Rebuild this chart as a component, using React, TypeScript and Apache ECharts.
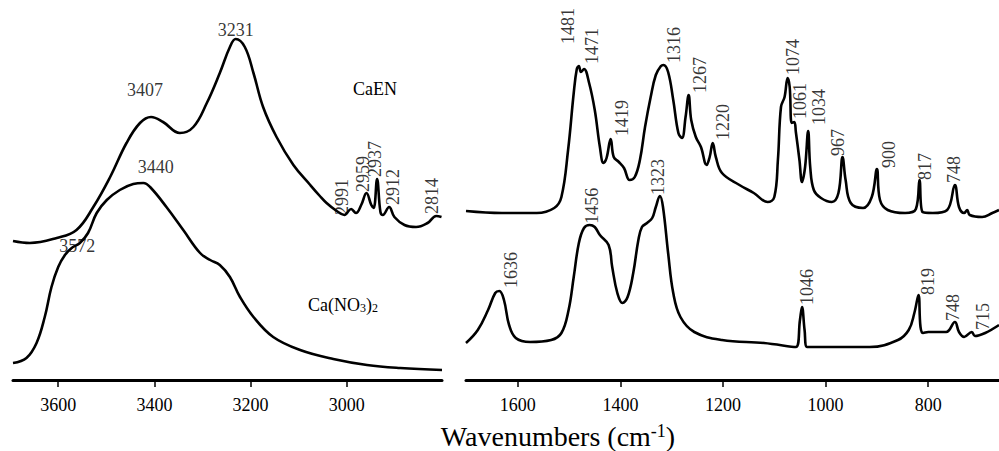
import { useEffect, useRef } from "react";
import * as echarts from "echarts";

const FONT = "Liberation Serif, Times New Roman, serif";

// ─── Spectra: [wavenumber (cm-1), intensity (a.u., offset)] ─────────
const LEFT_CAEN = [
  [3694, 139], [3659, 137], [3603, 142], [3562, 150], [3527, 173], [3492, 203],
  [3458, 237], [3430, 257], [3407, 263], [3382, 258], [3347, 247], [3319, 253],
  [3291, 277], [3264, 307], [3243, 333], [3231, 341], [3212, 333], [3194, 307],
  [3174, 273], [3146, 243], [3111, 215], [3076, 195], [3056, 184], [3042, 177],
  [3021, 169], [3005, 165], [2991, 171], [2981, 167], [2970, 175], [2959, 187],
  [2949, 175], [2944, 172], [2937, 201], [2930, 168], [2925, 165], [2912, 173],
  [2901, 163], [2880, 155], [2856, 153], [2832, 157], [2814, 164], [2803, 163],
];

const LEFT_CANO3 = [
  [3694, 17], [3666, 22], [3645, 37], [3628, 63], [3614, 93], [3600, 113],
  [3586, 125], [3572, 132], [3555, 137], [3538, 147], [3520, 167], [3499, 180],
  [3472, 190], [3444, 196], [3423, 197], [3409, 193], [3375, 173], [3340, 150],
  [3305, 127], [3284, 120], [3264, 115], [3243, 103], [3222, 83], [3194, 63],
  [3153, 43], [3097, 30], [3028, 21], [2958, 15], [2889, 12], [2802, 10],
];

const RIGHT_CAEN = [
  [1701, 169], [1631, 167], [1563, 167], [1529, 172], [1515, 183], [1502, 230],
  [1491, 287], [1485, 311], [1481, 314], [1477, 308], [1471, 311], [1461, 297],
  [1450, 270], [1440, 233], [1433, 217], [1427, 222], [1419, 241], [1413, 223],
  [1403, 218], [1393, 212], [1382, 200], [1372, 203], [1362, 220], [1352, 253],
  [1341, 283], [1331, 305], [1321, 314], [1316, 315], [1307, 308], [1297, 280],
  [1287, 247], [1280, 242], [1273, 263], [1267, 285], [1262, 260], [1253, 243],
  [1243, 233], [1232, 215], [1226, 223], [1220, 237], [1214, 223], [1202, 207],
  [1168, 195], [1140, 187], [1113, 178], [1100, 183], [1093, 220], [1087, 273],
  [1080, 283], [1074, 302], [1070, 293], [1066, 257], [1061, 258], [1058, 248],
  [1051, 220], [1046, 198], [1040, 213], [1034, 249], [1030, 213], [1023, 190],
  [1009, 182], [988, 178], [975, 187], [967, 223], [961, 200], [951, 177],
  [927, 172], [910, 183], [900, 211], [894, 180], [879, 170], [845, 167],
  [824, 171], [817, 200], [811, 168], [791, 167], [763, 170], [748, 195],
  [740, 173], [730, 167], [724, 170], [719, 165], [695, 163], [675, 167],
  [662, 170],
];

const RIGHT_CANO3 = [
  [1701, 37], [1678, 50], [1658, 70], [1644, 87], [1636, 89], [1627, 80],
  [1617, 55], [1604, 42], [1576, 38], [1535, 40], [1515, 47], [1501, 70],
  [1491, 103], [1481, 137], [1471, 152], [1460, 155], [1450, 153], [1440, 145],
  [1423, 135], [1416, 113], [1406, 87], [1396, 77], [1386, 83], [1375, 107],
  [1365, 140], [1358, 153], [1348, 157], [1338, 162], [1331, 173], [1323, 184],
  [1317, 173], [1307, 127], [1297, 87], [1283, 63], [1256, 48], [1202, 40],
  [1120, 37], [1058, 33], [1050, 60], [1046, 73], [1041, 50], [1036, 33],
  [982, 33], [914, 33], [859, 40], [838, 50], [827, 67], [819, 85],
  [815, 53], [810, 47], [800, 48], [765, 48], [748, 58], [740, 48],
  [730, 43], [715, 48], [709, 44], [689, 47], [662, 55],
];

// ─── Axis ticks ────────────────────────────────────────────────────
const LEFT_TICKS = [3600, 3400, 3200, 3000];
const RIGHT_TICKS = [1600, 1400, 1200, 1000, 800];

// ─── Peak assignments ──────────────────────────────────────────────
const LEFT_CAEN_PEAKS = [3407, 3231, 2991, 2959, 2937, 2912, 2814];
const LEFT_CANO3_PEAKS = [3572, 3440];
const RIGHT_CAEN_PEAKS = [1481, 1471, 1419, 1316, 1267, 1220, 1074, 1061, 1034, 967, 900, 817, 748];
const RIGHT_CANO3_PEAKS = [1636, 1456, 1323, 1046, 819, 748, 715];

// label placement on screen relative to the peak: [dx, dy] px, h = horizontal text
const LABEL_PLACE: Record<string, { dx: number; dy: number; h?: boolean }> = {
  "L1-3407": { dx: -6, dy: -27, h: true },
  "L1-3231": { dx: 0, dy: -9, h: true },
  "L1-2991": { dx: -9, dy: 6 },
  "L1-2959": { dx: -3, dy: -1 },
  "L1-2937": { dx: -2, dy: -2 },
  "L1-2912": { dx: 4, dy: -2 },
  "L1-2814": { dx: -4, dy: -2 },
  "L2-3572": { dx: 5.5, dy: -2, h: true },
  "L2-3440": { dx: 20.5, dy: -17, h: true },
  "R1-1481": { dx: -10.5, dy: -22 },
  "R1-1471": { dx: 8, dy: -5 },
  "R1-1419": { dx: 11, dy: -3 },
  "R1-1316": { dx: 10.5, dy: -2 },
  "R1-1267": { dx: 11.5, dy: -2 },
  "R1-1220": { dx: 10.5, dy: -3 },
  "R1-1074": { dx: 5.5, dy: -3 },
  "R1-1061": { dx: 6, dy: -3 },
  "R1-1034": { dx: 11, dy: -6 },
  "R1-967": { dx: -5, dy: -1 },
  "R1-900": { dx: 12, dy: -1 },
  "R1-817": { dx: 6, dy: 0 },
  "R1-748": { dx: -1, dy: -2 },
  "R2-1636": { dx: 12, dy: -3 },
  "R2-1456": { dx: 0, dy: -2 },
  "R2-1323": { dx: -2, dy: -1 },
  "R2-1046": { dx: 4.5, dy: -2 },
  "R2-819": { dx: 10, dy: 0 },
  "R2-748": { dx: -2, dy: -1 },
  "R2-715": { dx: 11.5, dy: -2 },
};

// linear read of a spectrum at a given wavenumber
function valueAt(series: number[][], wn: number) {
  for (let i = 0; i < series.length - 1; i++) {
    const [x0, y0] = series[i];
    const [x1, y1] = series[i + 1];
    if ((wn <= x0 && wn >= x1) || (wn >= x0 && wn <= x1)) {
      if (x0 === x1) return y0;
      return y0 + ((wn - x0) / (x1 - x0)) * (y1 - y0);
    }
  }
  return series[series.length - 1][1];
}

function peakLabels(key: string, series: number[][], peaks: number[], axis: number) {
  return {
    type: "scatter",
    xAxisIndex: axis,
    yAxisIndex: axis,
    silent: true,
    symbol: "circle",
    symbolSize: 1,
    itemStyle: { color: "transparent" },
    z: 10,
    data: peaks.map((wn) => {
      const p = LABEL_PLACE[`${key}-${wn}`] ?? { dx: 0, dy: 0 };
      // rotated text takes its offset in its own (turned) frame
      const offset = p.h ? [p.dx, p.dy] : [-p.dy, p.dx];
      return {
        value: [wn, valueAt(series, wn)],
        label: {
          show: true,
          position: "inside",
          formatter: String(wn),
          color: "#000",
          fontFamily: FONT,
          fontSize: 18,
          rotate: p.h ? 0 : 90,
          align: p.h ? "center" : "left",
          verticalAlign: "middle",
          offset,
        },
      };
    }),
  };
}

function spectrum(data: number[][], axis: number) {
  return {
    type: "line",
    xAxisIndex: axis,
    yAxisIndex: axis,
    data,
    showSymbol: false,
    smooth: 0.4,
    silent: true,
    lineStyle: { color: "#000", width: 2.6 },
    z: 3,
  };
}

function xAxis(grid: number, min: number, max: number, ticks: number[]) {
  return {
    type: "value",
    gridIndex: grid,
    inverse: true,
    min,
    max,
    axisLine: { show: true, lineStyle: { color: "#000", width: 3 } },
    axisTick: {
      show: true,
      inside: false,
      length: 7,
      customValues: ticks,
      lineStyle: { color: "#000", width: 1.5 },
    },
    axisLabel: {
      show: true,
      customValues: ticks,
      formatter: (v: number) => String(v),
      margin: 16,
      color: "#000",
      fontFamily: FONT,
      fontSize: 18,
    },
    splitLine: { show: false },
  };
}

export default function App() {
  const ref = useRef<HTMLDivElement>(null);

  useEffect(() => {
    if (!ref.current) return;
    const chart = echarts.init(ref.current, undefined, { renderer: "svg" });

    chart.setOption({
      animation: false,
      backgroundColor: "#fff",
      grid: [
        { left: 13, top: 0, width: 429, height: 380, containLabel: false, outerBoundsMode: "none" },
        { left: 466, top: 0, right: 0, height: 380, containLabel: false, outerBoundsMode: "none" },
      ],
      xAxis: [
        xAxis(0, 2802, 3694, LEFT_TICKS),
        xAxis(1, 662, 1701, RIGHT_TICKS),
      ],
      yAxis: [
        { type: "value", gridIndex: 0, min: 0, max: 380, show: false },
        { type: "value", gridIndex: 1, min: 0, max: 380, show: false },
      ],
      graphic: [
        {
          type: "text",
          x: 375,
          y: 89,
          style: { text: "CaEN", fill: "#000", fontSize: 18, fontFamily: FONT, align: "center", verticalAlign: "middle" },
        },
        {
          type: "text",
          x: 343,
          y: 305,
          style: {
            text: "Ca(NO{sub|3}){sub|2}",
            fill: "#000",
            fontSize: 18,
            fontFamily: FONT,
            align: "center",
            verticalAlign: "middle",
            rich: { sub: { fontSize: 12, fontFamily: FONT, verticalAlign: "bottom", fill: "#000" } },
          },
        },
        {
          type: "text",
          x: 558,
          y: 436,
          style: {
            text: "Wavenumbers (cm{sup|-1})",
            fill: "#000",
            fontSize: 28,
            fontFamily: FONT,
            align: "center",
            verticalAlign: "middle",
            rich: { sup: { fontSize: 18, fontFamily: FONT, verticalAlign: "top", fill: "#000" } },
          },
        },
      ],
      series: [
        spectrum(LEFT_CAEN, 0),
        spectrum(LEFT_CANO3, 0),
        spectrum(RIGHT_CAEN, 1),
        spectrum(RIGHT_CANO3, 1),
        peakLabels("L1", LEFT_CAEN, LEFT_CAEN_PEAKS, 0),
        peakLabels("L2", LEFT_CANO3, LEFT_CANO3_PEAKS, 0),
        peakLabels("R1", RIGHT_CAEN, RIGHT_CAEN_PEAKS, 1),
        peakLabels("R2", RIGHT_CANO3, RIGHT_CANO3_PEAKS, 1),
      ],
    });

    return () => chart.dispose();
  }, []);

  return (
    <div
      ref={ref}
      style={{ position: "fixed", left: 0, top: 0, width: 999, height: 451, background: "#fff" }}
    />
  );
}
